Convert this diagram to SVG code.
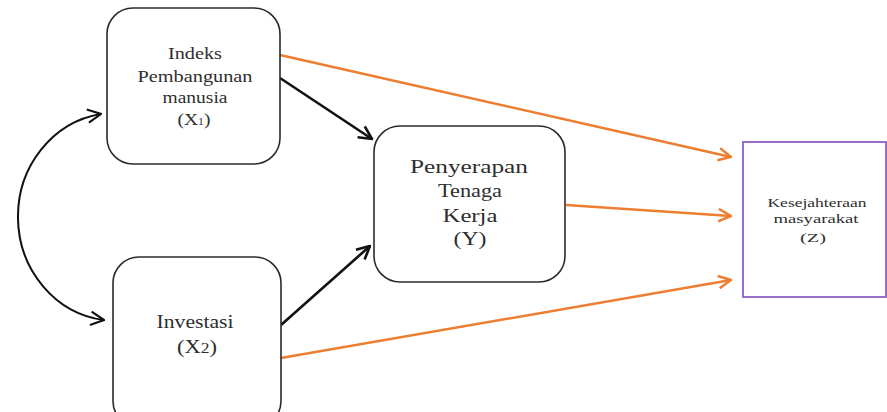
<svg xmlns="http://www.w3.org/2000/svg" width="887" height="412" viewBox="0 0 887 412">
<defs>
<style>
.box{fill:#fff;stroke:#2b2b2b;stroke-width:1.6}
.t{font-family:'Liberation Serif','DejaVu Serif','Times New Roman',serif;fill:#2e2e2e;text-anchor:middle}
.or{stroke:#ED7D31;stroke-width:2.5;fill:none}
.bk{stroke:#111;stroke-width:2.6;fill:none}
</style>
<marker id="ao" viewBox="0 0 12 12" refX="11" refY="6" markerWidth="6" markerHeight="6" markerUnits="strokeWidth" orient="auto">
<polyline points="1,1 11,6 1,11" fill="none" stroke="#ED7D31" stroke-width="2"/>
</marker>
<marker id="ab" viewBox="0 0 12 12" refX="11" refY="6" markerWidth="6" markerHeight="6" markerUnits="strokeWidth" orient="auto">
<polyline points="1,1 11,6 1,11" fill="none" stroke="#111" stroke-width="2"/>
</marker>
<marker id="ac" viewBox="0 0 12 12" refX="11" refY="6" markerWidth="8" markerHeight="8" markerUnits="strokeWidth" orient="auto-start-reverse">
<polyline points="1,1 11,6 1,11" fill="none" stroke="#111" stroke-width="1.6"/>
</marker>
</defs>
<g id="connectors">
<line class="or" x1="280" y1="55" x2="731" y2="157" marker-end="url(#ao)"/>
<line class="or" x1="566" y1="205" x2="731" y2="216" marker-end="url(#ao)"/>
<line class="or" x1="281" y1="358" x2="731" y2="280" marker-end="url(#ao)"/>
<line class="bk" x1="280" y1="78" x2="372" y2="139" marker-end="url(#ab)"/>
<line class="bk" x1="281" y1="325" x2="370" y2="246" marker-end="url(#ab)"/>
<path d="M 101 114 A 98 104 0 0 0 104 320" fill="none" stroke="#111" stroke-width="2" marker-start="url(#ac)" marker-end="url(#ac)"/>
</g>
<g id="x1">
<rect class="box" x="107" y="8" width="173" height="156" rx="26"/>
<text class="t" font-size="16.5" x="195" y="59" textLength="54" lengthAdjust="spacingAndGlyphs">Indeks</text>
<text class="t" font-size="16.5" x="195" y="82" textLength="115" lengthAdjust="spacingAndGlyphs">Pembangunan</text>
<text class="t" font-size="16.5" x="195" y="103" textLength="65" lengthAdjust="spacingAndGlyphs">manusia</text>
<text class="t" font-size="16.5" x="194" y="125" textLength="33" lengthAdjust="spacingAndGlyphs">(X<tspan font-size="10">1</tspan>)</text>
</g>
<g id="y">
<rect class="box" x="374" y="126" width="191" height="156" rx="26"/>
<text class="t" font-size="18.5" x="469" y="173" textLength="118" lengthAdjust="spacingAndGlyphs">Penyerapan</text>
<text class="t" font-size="18.5" x="470" y="197" textLength="64" lengthAdjust="spacingAndGlyphs">Tenaga</text>
<text class="t" font-size="18.5" x="470" y="222" textLength="55" lengthAdjust="spacingAndGlyphs">Kerja</text>
<text class="t" font-size="18.5" x="470" y="245" textLength="33" lengthAdjust="spacingAndGlyphs">(Y)</text>
</g>
<g id="x2">
<rect class="box" x="113" y="257" width="168" height="170" rx="26"/>
<text class="t" font-size="18" x="195" y="328" textLength="77" lengthAdjust="spacingAndGlyphs">Investasi</text>
<text class="t" font-size="18" x="197" y="353" textLength="40" lengthAdjust="spacingAndGlyphs">(X<tspan font-size="14">2</tspan>)</text>
</g>
<g id="z">
<rect x="743" y="142" width="143" height="155" fill="#fff" stroke="#8E5FC6" stroke-width="1.8"/>
<text class="t" font-size="12.5" x="817" y="207" textLength="99" lengthAdjust="spacingAndGlyphs">Kesejahteraan</text>
<text class="t" font-size="12.5" x="816" y="223" textLength="85" lengthAdjust="spacingAndGlyphs">masyarakat</text>
<text class="t" font-size="12.5" x="813" y="242" textLength="26" lengthAdjust="spacingAndGlyphs">(Z)</text>
</g>
</svg>
